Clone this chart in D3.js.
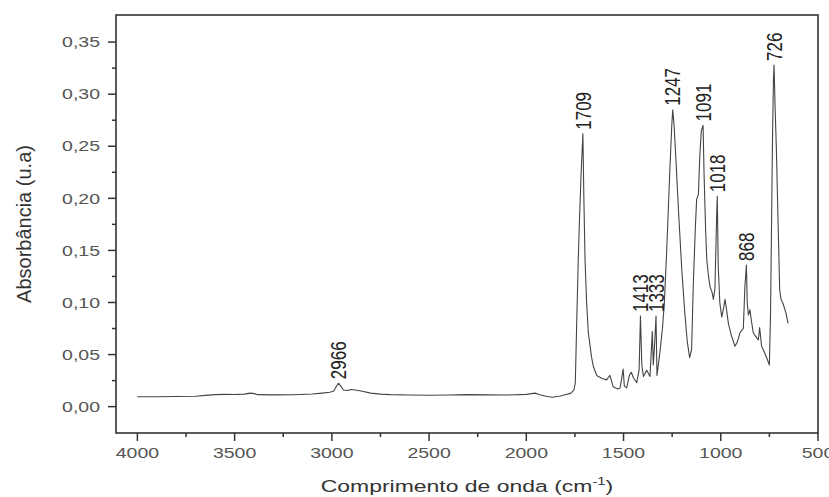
<!DOCTYPE html>
<html>
<head>
<meta charset="utf-8">
<script src="https://cdn.jsdelivr.net/npm/d3@7"></script>
<style>
  body { margin: 0; background: #fff; }
  svg { display: block; }
</style>
</head>
<body>
<div id="chart"></div>
<script>
// FTIR spectrum
var wavenumber = [4000, 3900, 3800, 3700, 3650, 3600, 3550, 3500, 3450, 3420, 3400, 3380, 3300, 3200, 3100, 3050, 3010, 2990, 2975, 2966, 2955, 2940, 2920, 2900, 2880, 2850, 2800, 2750, 2700, 2600, 2500, 2400, 2300, 2200, 2100, 2000, 1955, 1930, 1900, 1867, 1830, 1800, 1770, 1755, 1748, 1740, 1733, 1727, 1718, 1709, 1704, 1698, 1690, 1681, 1665, 1655, 1638, 1610, 1587, 1570, 1553, 1530, 1518, 1507, 1502, 1496, 1484, 1470, 1460, 1450, 1432, 1420, 1413, 1406, 1398, 1381, 1364, 1352, 1347, 1340, 1333, 1328, 1313, 1300, 1290, 1278, 1261, 1252, 1247, 1240, 1230, 1215, 1200, 1185, 1172, 1160, 1150, 1141, 1130, 1124, 1115, 1108, 1100, 1091, 1086, 1078, 1072, 1063, 1055, 1045, 1038, 1030, 1021, 1018, 1013, 1005, 995, 985, 978, 968, 961, 945, 927, 915, 901, 884, 876, 868, 864, 858, 850, 842, 833, 815, 807, 800, 794, 790, 773, 760, 750, 744, 738, 734, 729, 726, 721, 714, 706, 697, 690, 680, 665, 654]
var absorbance = [0.0095, 0.0095, 0.0098, 0.0100, 0.0108, 0.0115, 0.0118, 0.0116, 0.0120, 0.0130, 0.0125, 0.0115, 0.0113, 0.0114, 0.0122, 0.0130, 0.0138, 0.0150, 0.0200, 0.0225, 0.0200, 0.0160, 0.0155, 0.0165, 0.0160, 0.0150, 0.0130, 0.0120, 0.0115, 0.0112, 0.0110, 0.0112, 0.0115, 0.0113, 0.0112, 0.0118, 0.0130, 0.0115, 0.0100, 0.0090, 0.0100, 0.0115, 0.0130, 0.0160, 0.0230, 0.087, 0.140, 0.177, 0.225, 0.262, 0.200, 0.141, 0.100, 0.071, 0.048, 0.0385, 0.030, 0.027, 0.0257, 0.030, 0.019, 0.017, 0.018, 0.030, 0.036, 0.020, 0.018, 0.030, 0.033, 0.028, 0.023, 0.035, 0.087, 0.040, 0.029, 0.035, 0.029, 0.072, 0.040, 0.060, 0.087, 0.030, 0.052, 0.075, 0.100, 0.150, 0.231, 0.270, 0.285, 0.270, 0.235, 0.180, 0.130, 0.090, 0.062, 0.047, 0.055, 0.119, 0.175, 0.199, 0.204, 0.240, 0.265, 0.270, 0.224, 0.170, 0.141, 0.125, 0.115, 0.110, 0.103, 0.113, 0.185, 0.202, 0.135, 0.100, 0.086, 0.095, 0.103, 0.090, 0.080, 0.068, 0.058, 0.062, 0.071, 0.075, 0.115, 0.136, 0.100, 0.088, 0.093, 0.082, 0.071, 0.066, 0.064, 0.076, 0.065, 0.058, 0.051, 0.045, 0.040, 0.090, 0.190, 0.256, 0.315, 0.328, 0.290, 0.247, 0.182, 0.112, 0.103, 0.099, 0.090, 0.080]

var peakLabels = [2966, 1709, 1413, 1333, 1247, 1091, 1018, 868, 726]

var xTicks = [4000, 3500, 3000, 2500, 2000, 1500, 1000, 500]
var yTicks = [0, 0.05, 0.10, 0.15, 0.20, 0.25, 0.30, 0.35]

var width = 829, height = 497
var margin = {left: 116, right: 11, top: 15, bottom: 64}
var sx = 1.3  // picture is stretched sideways, text too

var svg = d3.select('#chart').append('svg')
  .attr('width', width)
  .attr('height', height)
  .style('font-family', '"Liberation Sans", Arial, sans-serif')

var x = d3.scaleLinear().domain([4110, 500]).range([margin.left, width - margin.right])
var y = d3.scaleLinear().domain([-0.0253, 0.376]).range([height - margin.bottom, margin.top])

var data = wavenumber.map((w, i) => [w, absorbance[i]])

// frame
svg.append('rect')
  .attr('x', x.range()[0]).attr('y', y.range()[1])
  .attr('width', x.range()[1] - x.range()[0])
  .attr('height', y.range()[0] - y.range()[1])
  .attr('fill', 'none').attr('stroke', '#333').attr('stroke-width', 1.6)

// x axis
var xAxis = svg.append('g').attr('transform', 'translate(0,' + y.range()[0] + ')')
xAxis.selectAll('line.major').data(xTicks).enter().append('line')
  .attr('x1', d => x(d)).attr('x2', d => x(d))
  .attr('y1', 0).attr('y2', 8)
  .attr('stroke', '#333').attr('stroke-width', 1.5)
xAxis.selectAll('line.minor').data(xTicks.slice(0, -1).map(d => d - 250)).enter().append('line')
  .attr('x1', d => x(d)).attr('x2', d => x(d))
  .attr('y1', 0).attr('y2', 4)
  .attr('stroke', '#333').attr('stroke-width', 1.5)
xAxis.selectAll('g.lab').data(xTicks).enter().append('g')
  .attr('transform', d => 'translate(' + x(d) + ',25) scale(' + sx + ',1)')
  .append('text')
  .attr('text-anchor', 'middle')
  .attr('font-size', 15)
  .attr('fill', '#555')
  .text(d => d)

// y axis
var yAxis = svg.append('g').attr('transform', 'translate(' + x.range()[0] + ',0)')
var fmt = d3.format('.2f')
yAxis.selectAll('line.major').data(yTicks).enter().append('line')
  .attr('x1', -8).attr('x2', 0)
  .attr('y1', d => y(d)).attr('y2', d => y(d))
  .attr('stroke', '#333').attr('stroke-width', 1.5)
yAxis.selectAll('line.minor').data(yTicks.slice(0, -1).map(d => d + 0.025)).enter().append('line')
  .attr('x1', -4).attr('x2', 0)
  .attr('y1', d => y(d)).attr('y2', d => y(d))
  .attr('stroke', '#333').attr('stroke-width', 1.5)
yAxis.selectAll('g.lab').data(yTicks).enter().append('g')
  .attr('transform', d => 'translate(-16,' + y(d) + ') scale(' + sx + ',1)')
  .append('text')
  .attr('text-anchor', 'end')
  .attr('dy', '0.35em')
  .attr('font-size', 15)
  .attr('fill', '#555')
  .text(d => fmt(d).replace('.', ','))

// axis titles
var xt = svg.append('g')
  .attr('transform', 'translate(' + ((x.range()[0] + x.range()[1]) / 2) + ',492) scale(1.35,1)')
  .append('text')
  .attr('text-anchor', 'middle')
  .attr('font-size', 17)
  .attr('fill', '#333')
xt.append('tspan').text('Comprimento de onda (cm')
xt.append('tspan').attr('font-size', 11).attr('dy', -7).text('-1')
xt.append('tspan').attr('dy', 7).text(')')

svg.append('text')
  .attr('transform', 'translate(31,' + ((y.range()[0] + y.range()[1]) / 2) + ') rotate(-90)')
  .attr('text-anchor', 'middle')
  .attr('font-size', 20)
  .attr('fill', '#333')
  .text('Absorbância (u.a)')

// spectrum
var line = d3.line().x(d => x(d[0])).y(d => y(d[1]))
svg.append('path')
  .datum(data)
  .attr('d', line)
  .attr('fill', 'none')
  .attr('stroke', '#444')
  .attr('stroke-width', 1.1)
  .attr('stroke-linejoin', 'round')

// peak labels
svg.selectAll('g.peak').data(peakLabels).enter().append('g')
  .attr('transform', function(w) {
    var a = absorbance[wavenumber.indexOf(w)]
    return 'translate(' + x(w) + ',' + (y(a) - 4) + ') scale(' + sx + ',1)'
  })
  .append('text')
  .attr('transform', 'rotate(-90)')
  .attr('dy', '0.35em')
  .attr('font-size', 17)
  .attr('fill', '#222')
  .text(d => d)
</script>
</body>
</html>
